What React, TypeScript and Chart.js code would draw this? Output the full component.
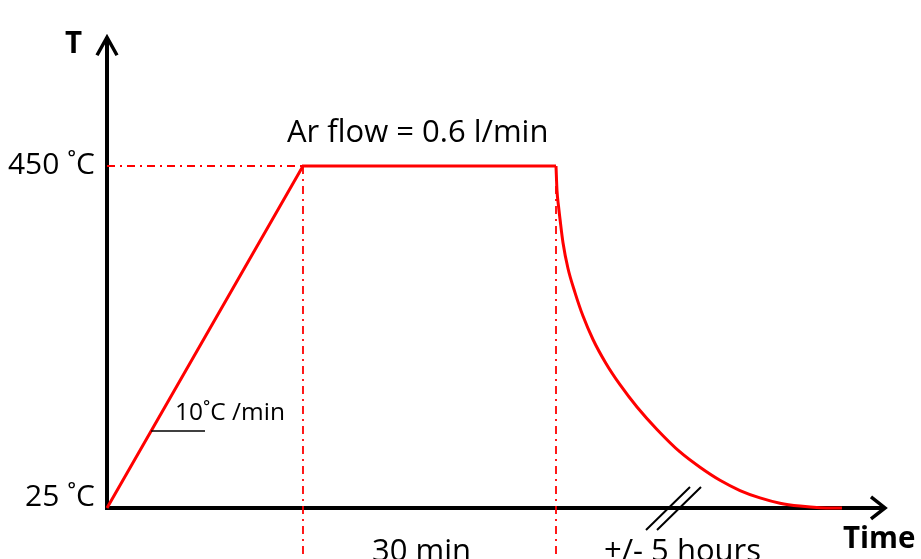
import React, { useEffect, useRef } from 'react';
import { Chart, registerables } from 'chart.js';

Chart.register(...registerables);

// ---- data (schematic time units, temperature in °C) ----
const rampTime = [0, 19.6, 44.9];
const rampTemp = [25, 450, 450];
const coolTime = [44.9, 45.0, 45.15, 45.3, 45.6, 46.1, 46.8, 47.6, 48.6, 49.9, 51.3, 53.0, 55.0, 57.3, 59.3, 61.3, 63.3, 65.3, 67.3, 69.3, 71.3, 73.5];
const coolTemp = [450, 419.4, 400.3, 384.1, 354.6, 322.6, 292.7, 263.5, 234.4, 204.6, 178.2, 150.5, 122.6, 94.6, 75.6, 59.4, 46.7, 37.6, 31, 27.4, 25.4, 25];
const tempTicks = [25, 450];
const tempTickLabels = ['25 ˚C', '450 ˚C'];
const phaseLabels = ['30 min', '+/- 5 hours'];
const axisTitles = ['T', 'Time'];
const flowLabel = 'Ar flow = 0.6 l/min';
const rateLabel = '10˚C /min';
const slopeMarkTime = [4.41, 9.8];
const slopeMarkTemp = [120.7, 120.7];
const breakTimes = [56.1, 57.2];

const X_MIN = -10.7;
const X_MAX = 81.4;
const Y_MIN = -38.4;
const Y_MAX = 656.3;
const X_AXIS_END = 77.8;
const Y_AXIS_END = 610;

const RED = '#ff0000';
const FONT = '"Open Sans", Lato, sans-serif';

const toPts = (xs: number[], ys: number[]) => xs.map((x, i) => ({ x, y: ys[i] }));

const decorPlugin = {
  id: 'decor',
  beforeDatasetsDraw(chart: any) {
    const { ctx, scales } = chart;
    const xs = scales.x;
    const ys = scales.y;
    const ox = xs.getPixelForValue(0);
    const oy = ys.getPixelForValue(tempTicks[0]);
    const xe = xs.getPixelForValue(X_AXIS_END);
    const ye = ys.getPixelForValue(Y_AXIS_END);
    ctx.save();
    ctx.strokeStyle = '#000';
    ctx.lineWidth = 4;
    ctx.lineCap = 'butt';
    ctx.beginPath();
    ctx.moveTo(ox, oy + 2);
    ctx.lineTo(ox, ye + 2);
    ctx.moveTo(ox - 2, oy);
    ctx.lineTo(xe - 2, oy);
    ctx.stroke();
    // arrowheads
    ctx.lineWidth = 3.5;
    ctx.lineJoin = 'miter';
    ctx.beginPath();
    ctx.moveTo(ox - 10, ye + 18);
    ctx.lineTo(ox, ye);
    ctx.lineTo(ox + 10, ye + 18);
    ctx.moveTo(xe - 14, oy - 11);
    ctx.lineTo(xe, oy);
    ctx.lineTo(xe - 14, oy + 11);
    ctx.stroke();
    // axis break
    ctx.lineWidth = 2;
    ctx.beginPath();
    breakTimes.forEach((t) => {
      const bx = xs.getPixelForValue(t);
      ctx.moveTo(bx - 22, oy + 22);
      ctx.lineTo(bx + 22, oy - 21);
    });
    ctx.stroke();
    ctx.restore();
  },
  afterDatasetsDraw(chart: any) {
    const { ctx, scales } = chart;
    const xs = scales.x;
    const ys = scales.y;
    const ox = xs.getPixelForValue(0);
    const oy = ys.getPixelForValue(tempTicks[0]);
    const y450 = ys.getPixelForValue(tempTicks[1]);
    const ye = ys.getPixelForValue(Y_AXIS_END);
    const xe = xs.getPixelForValue(X_AXIS_END);
    ctx.save();
    ctx.fillStyle = '#000';
    ctx.textBaseline = 'alphabetic';
    ctx.font = `30px ${FONT}`;
    ctx.textAlign = 'right';
    ctx.fillText(tempTickLabels[0], ox - 12, oy - 2);
    ctx.fillText(tempTickLabels[1], ox - 12, y450 + 8);
    ctx.font = `31px ${FONT}`;
    ctx.textAlign = 'left';
    ctx.fillText(flowLabel, xs.getPixelForValue(rampTime[1]) - 16, y450 - 24);
    const p1 = xs.getPixelForValue(rampTime[1]);
    const p2 = xs.getPixelForValue(rampTime[2]);
    ctx.textAlign = 'center';
    ctx.fillText(phaseLabels[0], (p1 + p2) / 2 - 8, oy + 53);
    ctx.textAlign = 'left';
    ctx.fillText(phaseLabels[1], p2 + 48, oy + 53);
    ctx.font = `24.5px ${FONT}`;
    ctx.fillText(rateLabel, xs.getPixelForValue(slopeMarkTime[1]) - 30, ys.getPixelForValue(slopeMarkTemp[0]) - 11);
    ctx.font = `bold 29.5px ${FONT}`;
    ctx.textAlign = 'right';
    ctx.fillText(axisTitles[0], ox - 25, ye + 16);
    ctx.textAlign = 'left';
    ctx.fillText(axisTitles[1], xe - 42, oy + 40);
    ctx.restore();
  },
};

export default function App() {
  const ref = useRef<HTMLCanvasElement>(null);
  useEffect(() => {
    if (!ref.current) return;
    const dashDot = [8, 5, 2, 5];
    const chart = new Chart(ref.current, {
      type: 'line',
      data: {
        datasets: [
          {
            data: toPts([0, rampTime[1]], [rampTemp[1], rampTemp[1]]),
            borderColor: RED, borderWidth: 1.8, borderDash: dashDot, pointRadius: 0, tension: 0,
          },
          {
            data: toPts([rampTime[1], rampTime[1]], [rampTemp[1], Y_MIN]),
            borderColor: RED, borderWidth: 1.8, borderDash: dashDot, pointRadius: 0, tension: 0,
          },
          {
            data: toPts([rampTime[2], rampTime[2]], [rampTemp[2], Y_MIN]),
            borderColor: RED, borderWidth: 1.8, borderDash: dashDot, pointRadius: 0, tension: 0,
          },
          {
            data: toPts(slopeMarkTime, slopeMarkTemp),
            borderColor: '#000', borderWidth: 1.5, pointRadius: 0, tension: 0,
          },
          {
            data: toPts(rampTime, rampTemp),
            borderColor: RED, borderWidth: 3, pointRadius: 0, tension: 0,
          },
          {
            data: toPts(coolTime, coolTemp),
            borderColor: RED, borderWidth: 3, pointRadius: 0, cubicInterpolationMode: 'monotone',
          },
        ],
      },
      options: {
        animation: false,
        responsive: true,
        maintainAspectRatio: false,
        layout: { padding: 0 },
        plugins: { legend: { display: false }, tooltip: { enabled: false } },
        events: [],
        scales: {
          x: { type: 'linear', min: X_MIN, max: X_MAX, display: false },
          y: { type: 'linear', min: Y_MIN, max: Y_MAX, display: false },
        },
      },
      plugins: [decorPlugin],
    } as any);
    return () => chart.destroy();
  }, []);
  return (
    <div style={{ position: 'fixed', left: 0, top: 0, width: 921, height: 559, background: '#fff' }}>
      <canvas ref={ref} />
    </div>
  );
}
